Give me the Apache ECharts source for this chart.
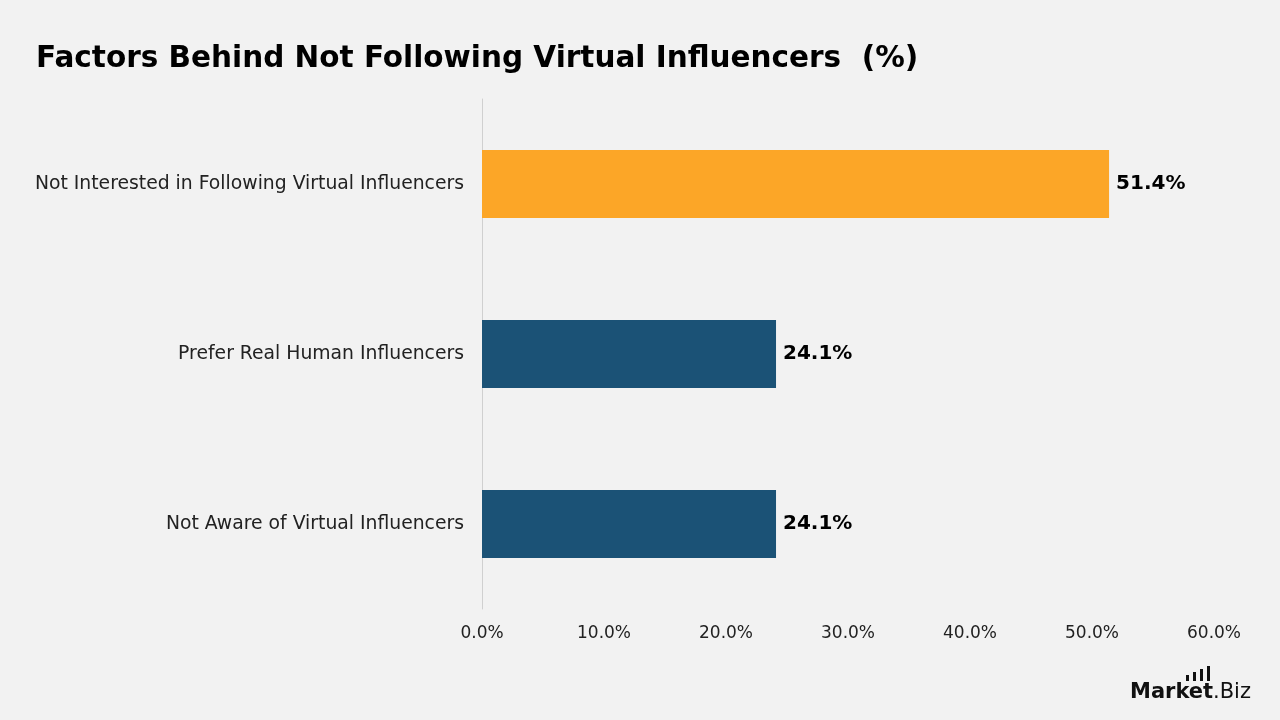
<!DOCTYPE html>
<html>
<head>
<meta charset="utf-8">
<title>Factors Behind Not Following Virtual Influencers</title>
<script src="https://cdn.jsdelivr.net/npm/echarts@6/dist/echarts.min.js"></script>
<style>
    html, body { margin: 0; padding: 0; background: #f2f2f2; }
    #main { width: 1280px; height: 720px; }
</style>
</head>
<body>
<div id="main"></div>
<script>
    // data, top to bottom as shown
    var categories = ['Not Interested in Following Virtual Influencers', 'Prefer Real Human Influencers', 'Not Aware of Virtual Influencers'];
    var values = [51.4, 24.1, 24.1];
    var barColors = ['#fca627', '#1b5276', '#1b5276'];

    var dom = document.getElementById('main');
    var myChart = echarts.init(dom);

    var option = {
        backgroundColor: '#f2f2f2',
        textStyle: { fontFamily: '"DejaVu Sans", sans-serif' },
        title: {
            text: 'Factors Behind Not Following Virtual Influencers  (%)',
            left: 31,
            top: 39,
            textStyle: { fontSize: 29.5, fontWeight: 'bold', color: '#000', fontFamily: '"DejaVu Sans", sans-serif' }
        },
        grid: { left: 482, right: 66, top: 99, bottom: 111 },
        xAxis: {
            type: 'value',
            min: 0,
            max: 60,
            interval: 10,
            axisLine: { show: false },
            axisTick: { show: false },
            splitLine: { show: false },
            axisLabel: {
                margin: 16,
                fontSize: 17,
                color: '#222',
                formatter: function (v) { return v.toFixed(1) + '%'; }
            }
        },
        yAxis: {
            type: 'category',
            inverse: true,
            data: categories,
            axisLine: { show: true, lineStyle: { color: '#d0d0d0', width: 1 } },
            axisTick: { show: false },
            axisLabel: { margin: 18, fontSize: 18.8, color: '#222' }
        },
        series: [{
            type: 'bar',
            barWidth: '40%',
            data: values.map(function (v, i) {
                return { value: v, itemStyle: { color: barColors[i] } };
            }),
            label: {
                show: true,
                position: 'right',
                distance: 7,
                fontSize: 20,
                fontWeight: 'bold',
                color: '#000',
                formatter: function (p) { return p.value.toFixed(1) + '%'; }
            }
        }],
        graphic: [
            // logo
            {
                type: 'text', left: 1130, top: 682,
                style: { text: 'Market', font: 'bold 21px "DejaVu Sans", sans-serif', fill: '#111' }
            },
            {
                type: 'text', left: 1213, top: 682,
                style: { text: '.Biz', font: '21px "DejaVu Sans", sans-serif', fill: '#111' }
            },
            { type: 'rect', shape: { x: 1186, y: 675, width: 3, height: 6 }, style: { fill: '#111' } },
            { type: 'rect', shape: { x: 1193, y: 672, width: 3, height: 9 }, style: { fill: '#111' } },
            { type: 'rect', shape: { x: 1200, y: 669, width: 3, height: 12 }, style: { fill: '#111' } },
            { type: 'rect', shape: { x: 1207, y: 666, width: 3, height: 15 }, style: { fill: '#111' } }
        ]
    };

    if (option && typeof option === 'object') {
        myChart.setOption(option, true);
    }
</script>
</body>
</html>
